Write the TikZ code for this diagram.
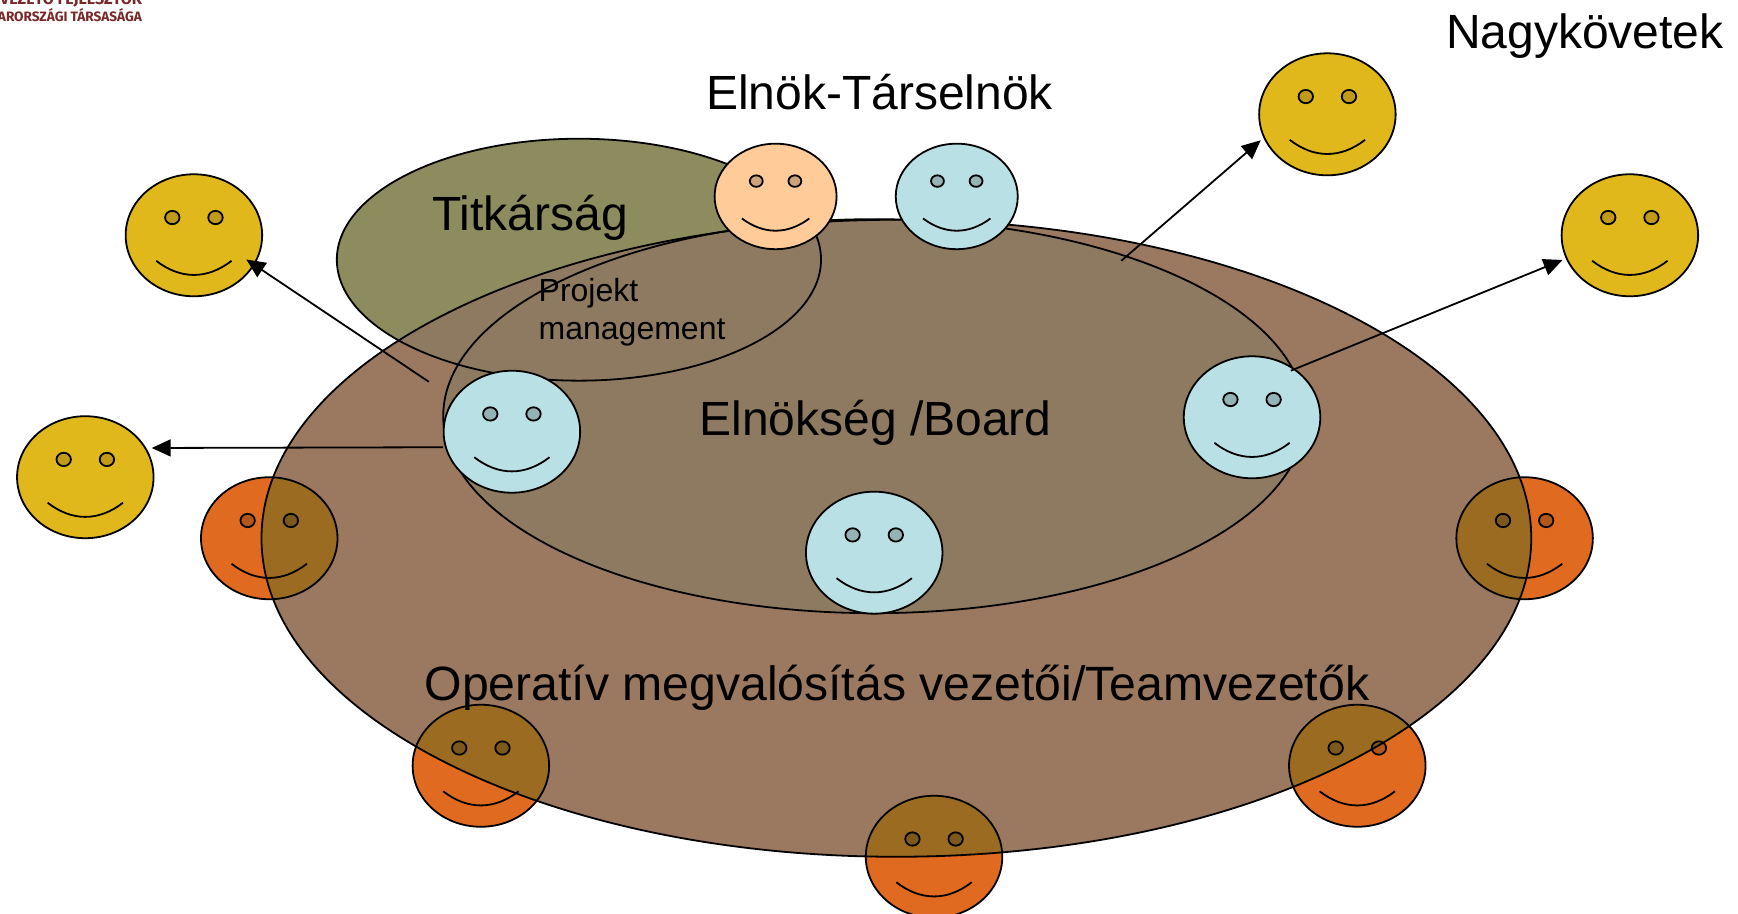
\documentclass[tikz,border=0pt]{standalone}
\usepackage{fontspec}
\setmainfont{Liberation Sans}
\newfontfamily\logofont{Fira Sans}
\usetikzlibrary{shapes.geometric,arrows.meta}
\definecolor{bigc}{RGB}{155,120,96}
\definecolor{innerc}{RGB}{142,122,96}
\definecolor{olivec}{RGB}{141,140,95}
\definecolor{peachc}{RGB}{255,204,153}
\definecolor{peache}{RGB}{204,163,122}
\definecolor{bluec}{RGB}{185,224,228}
\definecolor{bluee}{RGB}{148,179,182}
\definecolor{yelc}{RGB}{224,184,28}
\definecolor{yele}{RGB}{192,154,24}
\definecolor{orc}{RGB}{224,107,32}
\definecolor{ore}{RGB}{179,86,26}
\definecolor{ovc}{RGB}{154,107,32}
\definecolor{ove}{RGB}{125,88,28}
\definecolor{logoc}{RGB}{120,40,40}
\tikzset{
  x=1.108pt,y=-1.1098pt,
  ln/.style={draw=black,line width=1.8pt},
  facebox/.style={ellipse,ln,inner sep=0pt,outer sep=0pt},
  bigfaces/.style={minimum width=136.5pt,minimum height=122pt},
  smallfaces/.style={minimum width=122pt,minimum height=105.5pt},
  arr/.style={draw=black,line width=1.8pt,-{Triangle[length=19pt,width=17pt]}},
  bigtxt/.style={anchor=base west,inner sep=0pt,font=\fontsize{48}{52}\selectfont},
  widetxt/.style={anchor=base west,inner sep=0pt,font=\fontsize{48.15}{52}\selectfont},
  smalltxt/.style={anchor=base west,inner sep=0pt,font=\fontsize{32}{38}\selectfont},
  logotxt/.style={anchor=base west,inner sep=0pt,text=logoc,font=\logofont\fontsize{13.6}{16}\selectfont\bfseries},
  logotop/.style={anchor=base west,inner sep=0pt,text=logoc,font=\logofont\fontsize{16}{18}\selectfont\bfseries}
}
% name, cx, cy, scale x, scale y, size style, fill, eye fill
\newcommand\smiley[8]{%
  \node[facebox,#6,fill=#7] (#1) at (#2,#3) {};
  \begin{scope}[shift={(#2,#3)},xscale=#4,yscale=#5]
    \draw[ln,fill=#8] (-19.5,-16) ellipse [x radius=6.5,y radius=6];
    \draw[ln,fill=#8] (19.5,-16) ellipse [x radius=6.5,y radius=6];
    \draw[ln] (-34,23) .. controls (-12,40) and (12,40) .. (34,23);
  \end{scope}}
\newcommand\bigpath{(809,485) ellipse [x radius=573,y radius=287]}
\begin{document}
\begin{tikzpicture}
\useasboundingbox (0,0) rectangle (1568.6,822.7);
\clip (0,0) rectangle (1568.6,822.7);
% logo
\node[logotop] (logoa) at (0,4) {VEZETŐ FEJLESZTŐK};
\node[logotxt] (logob) at (-2,19) {ARORSZÁGI TÁRSASÁGA};
% outer faces behind
\smiley{o1}{243}{485}{1}{1}{bigfaces}{orc}{ore}
\smiley{o2}{1376}{485}{1}{1}{bigfaces}{orc}{ore}
\smiley{o3}{434}{690}{1}{1}{bigfaces}{orc}{ore}
\smiley{o4}{1225}{690}{1}{1}{bigfaces}{orc}{ore}
\smiley{o5}{843}{772}{1}{1}{bigfaces}{orc}{ore}
% secretariat
\draw[ln,fill=olivec] (522.5,234) ellipse [x radius=218.5,y radius=109];
% big ellipse
\fill[bigc] \bigpath;
\begin{scope}
  \clip \bigpath;
  \smiley{p1}{243}{485}{1}{1}{bigfaces}{ovc}{ove}
  \smiley{p2}{1376}{485}{1}{1}{bigfaces}{ovc}{ove}
  \smiley{p3}{434}{690}{1}{1}{bigfaces}{ovc}{ove}
  \smiley{p4}{1225}{690}{1}{1}{bigfaces}{ovc}{ove}
  \smiley{p5}{843}{772}{1}{1}{bigfaces}{ovc}{ove}
  \fill[innerc] (522.5,234) ellipse [x radius=218.5,y radius=109];
\end{scope}
\draw[ln,fill=innerc] (789,375) ellipse [x radius=389,y radius=177.5];
\begin{scope}
  \clip \bigpath;
  \draw[ln] (522.5,234) ellipse [x radius=218.5,y radius=109];
\end{scope}
\draw[ln] \bigpath;
% inner faces
\smiley{pk}{700}{177}{.894}{.864}{smallfaces}{peachc}{peache}
\smiley{b1}{863.5}{177}{.894}{.864}{smallfaces}{bluec}{bluee}
\smiley{b2}{462}{389}{1}{1}{bigfaces}{bluec}{bluee}
\smiley{b3}{1130}{376}{1}{1}{bigfaces}{bluec}{bluee}
\smiley{b4}{789}{498}{1}{1}{bigfaces}{bluec}{bluee}
% ambassadors
\smiley{y1}{1198}{103}{1}{1}{bigfaces}{yelc}{yele}
\smiley{y2}{1471}{212}{1}{1}{bigfaces}{yelc}{yele}
\smiley{y3}{175}{212}{1}{1}{bigfaces}{yelc}{yele}
\smiley{y4}{77}{430}{1}{1}{bigfaces}{yelc}{yele}
% connectors
\coordinate (s1) at (387,344);
\coordinate (s2) at (1012,235);
\coordinate (s3) at (1165,334);
\coordinate (e4) at (400,403);
\draw[arr,shorten >=-9pt] (s1) -- (y3.-26);
\draw[arr,shorten >=6.5pt] (e4) -- (y4.26);
\draw[arr,shorten >=4.5pt] (s2) -- (y1.200);
\draw[arr,shorten >=4.5pt] (s3) -- (y2.200);
% texts
\node[bigtxt] (t1) at (1305,43.5) {Nagykövetek};
\node[bigtxt] (t2) at (637,98.5) {Elnök-Társelnök};
\node[bigtxt] (t3) at (390,207.5) {Titkárság};
\node[bigtxt] (t4) at (631,392) {Elnökség /Board};
\node[widetxt] (t5) at (383,631) {Operatív megvalósítás vezetői/Teamvezetők};
\node[smalltxt] (t6) at (486,272) {Projekt};
\node[smalltxt] (t7) at (486,306) {management};
\end{tikzpicture}
\end{document}
